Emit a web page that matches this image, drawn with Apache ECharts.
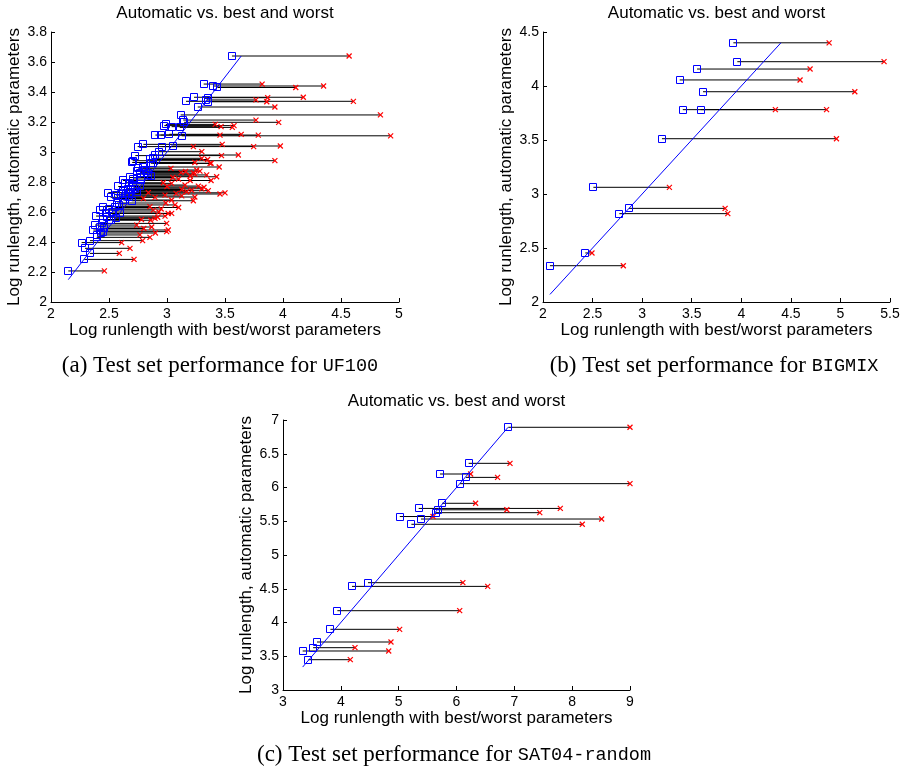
<!DOCTYPE html>
<html>
<head>
<meta charset="utf-8">
<script src="https://cdn.jsdelivr.net/npm/echarts@6/dist/echarts.min.js"></script>
<style>
  html, body { margin: 0; padding: 0; background: #ffffff; }
  #chart { width: 903px; height: 771px; }
</style>
</head>
<body>
<div id="chart"></div>
<script>
// UF100 test instances: log10 runlength with best, automatic and worst parameters
const uf100Best = [
  3.56, 3.316, 3.40, 3.435, 3.233, 3.35, 3.34, 3.164, 3.355, 3.265,
  3.118, 3.14, 3.147, 2.99, 2.977, 3.04, 3.11, 2.90, 2.945, 3.02,
  3.127, 2.796, 2.747, 2.954, 3.05, 2.93, 2.727, 2.897, 2.882, 2.704,
  2.85, 2.70, 2.86, 2.753, 2.767, 2.739, 2.819, 2.833, 2.882, 2.776,
  2.80, 2.84, 2.79, 2.86, 2.638, 2.675, 2.704, 2.767, 2.71, 2.623,
  2.66, 2.675, 2.72, 2.74, 2.69, 2.494, 2.514, 2.56, 2.638, 2.623,
  2.696, 2.60, 2.65, 2.58, 2.67, 2.451, 2.422, 2.388, 2.589, 2.595,
  2.56, 2.437, 2.50, 2.53, 2.47, 2.55, 2.48, 2.52, 2.57, 2.38,
  2.365, 2.40, 2.451, 2.394, 2.42, 2.43, 2.46, 2.264, 2.336, 2.293,
  2.336, 2.287, 2.149, 2.62, 2.71, 2.58, 2.78, 2.74, 2.68, 2.45
];
const uf100Auto = [
  3.64, 3.453, 3.44, 3.43, 3.365, 3.362, 3.347, 3.338, 3.335, 3.30,
  3.247, 3.213, 3.198, 3.184, 3.176, 3.169, 3.164, 3.113, 3.113, 3.118,
  3.108, 3.051, 3.036, 3.036, 3.04, 3.002, 2.976, 2.98, 2.958, 2.942,
  2.95, 2.93, 2.925, 2.891, 2.862, 2.853, 2.872, 2.847, 2.924, 2.835,
  2.88, 2.86, 2.90, 2.84, 2.795, 2.791, 2.78, 2.773, 2.765, 2.742,
  2.755, 2.724, 2.75, 2.735, 2.745, 2.729, 2.698, 2.713, 2.707, 2.68,
  2.675, 2.72, 2.728, 2.69, 2.70, 2.636, 2.613, 2.573, 2.647, 2.591,
  2.558, 2.524, 2.62, 2.60, 2.59, 2.63, 2.565, 2.545, 2.66, 2.513,
  2.48, 2.447, 2.469, 2.431, 2.50, 2.46, 2.49, 2.396, 2.409, 2.358,
  2.324, 2.284, 2.207, 2.81, 2.82, 2.77, 2.81, 2.87, 2.83, 2.55
];
const uf100Worst = [
  4.57, 3.82, 4.35, 4.11, 4.175, 3.868, 3.767, 4.607, 3.86, 3.93,
  4.84, 3.767, 3.963, 3.416, 3.578, 3.466, 3.563, 3.787, 3.457, 3.64,
  4.928, 3.476, 3.227, 3.747, 3.977, 3.30, 3.47, 3.615, 3.30, 3.93,
  3.35, 3.24, 3.38, 3.034, 3.121, 3.241, 3.284, 3.342, 3.371, 3.428,
  3.256, 3.227, 3.45, 3.20, 2.968, 3.04, 3.155, 3.27, 3.319, 3.356,
  3.30, 3.078, 3.127, 3.17, 3.213, 2.839, 2.897, 2.983, 3.127, 3.04,
  3.227, 3.457, 3.50, 2.796, 3.24, 2.853, 2.882, 2.983, 3.069, 3.04,
  2.897, 2.997, 2.95, 2.93, 3.01, 3.10, 2.92, 2.86, 2.99, 2.739,
  3.011, 2.767, 2.997, 2.853, 2.868, 2.90, 2.80, 2.609, 2.79, 2.681,
  2.589, 2.716, 2.46, 3.20, 3.10, 3.00, 3.38, 3.16, 3.05, 2.78
];

// BIGMIX test instances
const bigmixBest  = [3.92, 3.96, 3.554, 3.379, 3.614, 3.41, 3.59, 3.20, 2.508, 2.868, 2.77, 2.427, 2.07];
const bigmixAuto  = [4.40, 4.225, 4.157, 4.056, 3.947, 3.781, 3.781, 3.512, 3.062, 2.867, 2.818, 2.454, 2.336];
const bigmixWorst = [4.886, 5.44, 4.694, 4.593, 5.145, 4.86, 4.344, 4.96, 3.275, 3.837, 3.864, 2.494, 2.81];

// SAT04-random test instances
const satBest  = [6.896, 6.21, 5.715, 6.165, 6.06, 5.75, 5.346, 5.68, 5.64, 5.02, 5.386, 5.22, 4.47, 4.193, 3.94, 3.82, 3.588, 3.52, 3.34, 3.44];
const satAuto  = [6.892, 6.358, 6.20, 6.15, 6.057, 5.766, 5.69, 5.67, 5.627, 5.57, 5.533, 5.455, 4.59, 4.535, 4.175, 3.899, 3.711, 3.627, 3.578, 3.449];
const satWorst = [9.0, 6.925, 6.245, 6.71, 9.0, 6.33, 7.795, 6.87, 7.44, 5.594, 8.51, 8.175, 6.11, 6.54, 6.055, 5.017, 4.867, 4.245, 4.828, 4.164];

// Axis ranges: [min, max, interval]
const uf100XRange = [2, 5, 0.5],  uf100YRange = [2, 3.8, 0.2];
const bigmixXRange = [2, 5.5, 0.5], bigmixYRange = [2, 4.5, 0.5];
const satXRange = [3, 9, 1],     satYRange = [3, 7, 0.5];

const plotTitle = 'Automatic vs. best and worst';
const xName = 'Log runlength with best/worst parameters';
const yName = 'Log runlength, automatic parameters';

const SANS = "'Liberation Sans', Arial, Helvetica, sans-serif";
const SERIF = "'Liberation Serif', 'Times New Roman', serif";
const MONO = "'Liberation Mono', 'DejaVu Sans Mono', monospace";

const panels = [
  { best: uf100Best, auto: uf100Auto, worst: uf100Worst, xr: uf100XRange, yr: uf100YRange,
    grid: { left: 51, top: 32, width: 348, height: 270 }, caption: ['(a)', 'UF100'], capX: 220, capY: 366 },
  { best: bigmixBest, auto: bigmixAuto, worst: bigmixWorst, xr: bigmixXRange, yr: bigmixYRange,
    grid: { left: 543, top: 32, width: 347, height: 270 }, caption: ['(b)', 'BIGMIX'], capX: 714, capY: 366 },
  { best: satBest, auto: satAuto, worst: satWorst, xr: satXRange, yr: satYRange,
    grid: { left: 283, top: 420, width: 347, height: 270 }, caption: ['(c)', 'SAT04-random'], capX: 454, capY: 755 }
];

const axisCommon = {
  type: 'value',
  nameLocation: 'middle',
  nameTextStyle: { fontSize: 17, color: '#000', fontFamily: SANS },
  axisLine: { show: true, onZero: false, lineStyle: { color: '#000', width: 1 } },
  axisTick: { show: true, inside: true, length: 4, lineStyle: { color: '#000', width: 1 } },
  axisLabel: { fontSize: 14, color: '#000', fontFamily: SANS },
  splitLine: { show: false }
};

const grid = [], xAxis = [], yAxis = [], series = [], elements = [];

panels.forEach((p, i) => {
  grid.push(p.grid);
  xAxis.push(Object.assign({}, axisCommon, {
    gridIndex: i, min: p.xr[0], max: p.xr[1], interval: p.xr[2],
    name: xName, nameGap: 19,
    axisLabel: Object.assign({}, axisCommon.axisLabel, { margin: 5 })
  }));
  yAxis.push(Object.assign({}, axisCommon, {
    gridIndex: i, min: p.yr[0], max: p.yr[1], interval: p.yr[2],
    name: yName, nameGap: 28,
    axisLabel: Object.assign({}, axisCommon.axisLabel, { margin: 4 })
  }));

  const rows = p.best.map((b, k) => [b, p.auto[k], p.worst[k]]);
  const lo = Math.min.apply(null, p.best);
  const hi = Math.max.apply(null, p.auto);

  // horizontal segment from best to worst at the automatic runlength
  series.push({
    type: 'custom', xAxisIndex: i, yAxisIndex: i, data: rows, silent: true,
    encode: { x: [0, 2], y: 1 },
    renderItem: (params, api) => {
      const a = api.coord([api.value(0), api.value(1)]);
      const b = api.coord([api.value(2), api.value(1)]);
      return { type: 'line', shape: { x1: a[0], y1: a[1], x2: b[0], y2: b[1] },
               style: { stroke: '#000', lineWidth: 1 } };
    }
  });
  // y = x reference line
  series.push({
    type: 'line', xAxisIndex: i, yAxisIndex: i, silent: true, symbol: 'none',
    data: [[lo, lo], [hi, hi]],
    lineStyle: { color: '#0000ff', width: 1 }
  });
  // worst: red crosses
  series.push({
    type: 'custom', xAxisIndex: i, yAxisIndex: i, data: rows, silent: true,
    encode: { x: 2, y: 1 },
    renderItem: (params, api) => {
      const c = api.coord([api.value(2), api.value(1)]);
      const r = 2.5;
      return { type: 'group', children: [
        { type: 'line', shape: { x1: c[0] - r, y1: c[1] - r, x2: c[0] + r, y2: c[1] + r }, style: { stroke: '#ff0000', lineWidth: 1.2 } },
        { type: 'line', shape: { x1: c[0] - r, y1: c[1] + r, x2: c[0] + r, y2: c[1] - r }, style: { stroke: '#ff0000', lineWidth: 1.2 } }
      ] };
    }
  });
  // best: blue open squares
  series.push({
    type: 'custom', xAxisIndex: i, yAxisIndex: i, data: rows, silent: true,
    encode: { x: 0, y: 1 },
    renderItem: (params, api) => {
      const c = api.coord([api.value(0), api.value(1)]);
      return { type: 'rect', shape: { x: Math.round(c[0]) - 3.5, y: Math.round(c[1]) - 3.5, width: 7, height: 7 },
               style: { fill: 'none', stroke: '#0000ff', lineWidth: 1 } };
    }
  });

  // panel title
  elements.push({
    type: 'text', x: p.grid.left + p.grid.width / 2, y: p.grid.top - 19,
    style: { text: plotTitle, fontSize: 17, fontFamily: SANS, fill: '#000', align: 'center', verticalAlign: 'middle' }
  });
  // sub-figure caption
  elements.push({
    type: 'text', x: p.capX, y: p.capY,
    style: {
      text: '{r|' + p.caption[0] + ' Test set performance for }{m|' + p.caption[1] + '}',
      align: 'center', verticalAlign: 'middle',
      rich: {
        r: { fontFamily: SERIF, fontSize: 23, fill: '#000' },
        m: { fontFamily: MONO, fontSize: 18.5, fill: '#000' }
      }
    }
  });
});

const chart = echarts.init(document.getElementById('chart'));
chart.setOption({
  animation: false,
  backgroundColor: '#ffffff',
  grid, xAxis, yAxis, series,
  graphic: { elements }
});
</script>
</body>
</html>
